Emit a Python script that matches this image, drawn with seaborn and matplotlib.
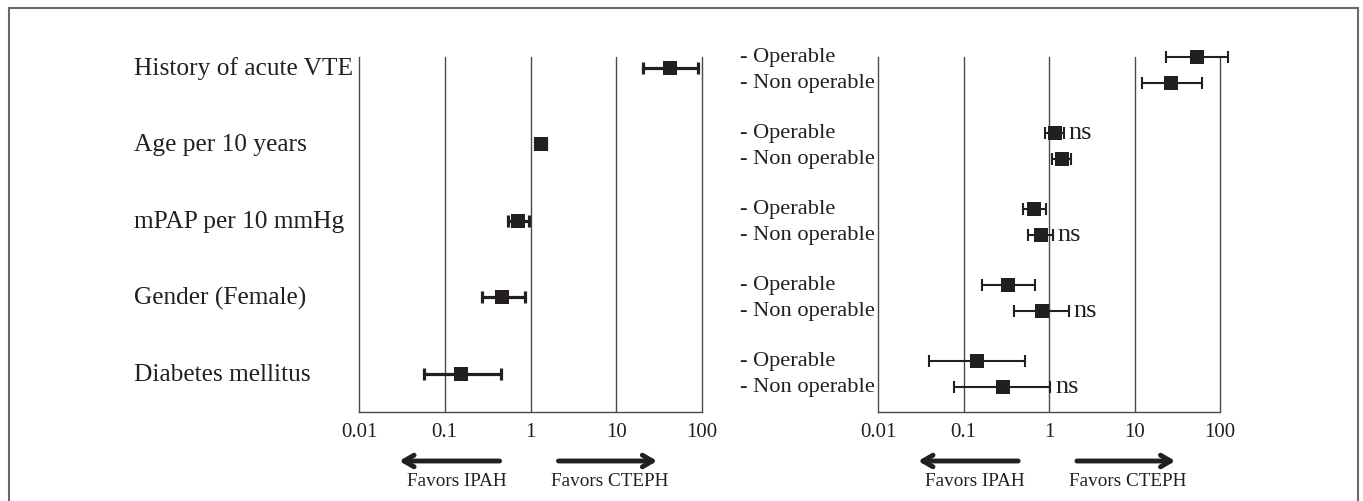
import numpy as np
import pandas as pd
import matplotlib
matplotlib.use("Agg")
import matplotlib.pyplot as plt
import matplotlib.transforms as mtransforms
from matplotlib.patches import Rectangle
import seaborn as sns

# ---------------- data ----------------
left_labels = ["History of acute VTE", "Age per 10 years", "mPAP per 10 mmHg",
               "Gender (Female)", "Diabetes mellitus"]
left_or = [42.0, 1.31, 0.72, 0.47, 0.155]
left_lo = [20.3, 1.12, 0.55, 0.27, 0.058]
left_hi = [91.0, 1.52, 0.95, 0.87, 0.45]

groups = ["VTE", "Age", "mPAP", "Gender", "Diabetes"]
op_or = [53.7, 1.16, 0.67, 0.33, 0.143]
op_lo = [23.6, 0.90, 0.49, 0.163, 0.040]
op_hi = [123.0, 1.48, 0.92, 0.69, 0.52]
nonop_or = [27.0, 1.41, 0.80, 0.82, 0.288]
nonop_lo = [12.1, 1.09, 0.57, 0.39, 0.078]
nonop_hi = [61.0, 1.82, 1.11, 1.70, 1.04]
op_ns = [False, True, False, False, False]
nonop_ns = [False, False, True, True, True]
sub_labels = ["- Operable", "- Non operable"]

ticks = [0.01, 0.1, 1, 10, 100]
tick_labels = ["0.01", "0.1", "1", "10", "100"]
arrow_left_text = "Favors IPAH"
arrow_right_text = "Favors CTEPH"

# ---------------- style ----------------
sns.set_theme(style="white")
plt.rcParams['font.family'] = ['Liberation Serif', 'DejaVu Serif']
INK = '#231f20'
GRID = '#4a4a4a'

W, H = 1363, 502
fig = plt.figure(figsize=(W / 100, H / 100), dpi=100)

def px_x(x):
    return x / W

def px_y(y):
    return 1 - y / H

axL = fig.add_axes([px_x(359), px_y(413), (702 - 359) / W, (413 - 58) / H])
axR = fig.add_axes([px_x(878), px_y(413), (1220 - 878) / W, (413 - 58) / H])

def style_axis(ax, ylim):
    ax.set_xscale('log')
    ax.set_xlim(0.01, 100)
    ax.set_ylim(*ylim)
    ax.set_xticks(ticks)
    ax.set_xticklabels(tick_labels, fontsize=15, color=INK)
    ax.minorticks_off()
    ax.tick_params(axis='x', length=0, pad=7)
    ax.set_yticks([])
    for s in ['top', 'right']:
        ax.spines[s].set_visible(False)
    for s in ['left', 'bottom']:
        ax.spines[s].set_color(GRID)
        ax.spines[s].set_linewidth(1.0)
    for t in ticks[1:]:
        ax.axvline(t, color=GRID, lw=1.0, zorder=1, clip_on=False)
    ax.set_facecolor('none')

    # arrows & captions
    tr = mtransforms.blended_transform_factory(ax.transData, fig.transFigure)
    ya = px_y(462)
    ax.annotate('', xy=(0.0295, ya), xytext=(0.436, ya), xycoords=tr, textcoords=tr,
                arrowprops=dict(arrowstyle='->,head_length=0.6,head_width=0.35',
                                lw=3.5, color=INK, shrinkA=0, shrinkB=0),
                annotation_clip=False)
    ax.annotate('', xy=(30.0, ya), xytext=(2.12, ya), xycoords=tr, textcoords=tr,
                arrowprops=dict(arrowstyle='->,head_length=0.6,head_width=0.35',
                                lw=3.5, color=INK, shrinkA=0, shrinkB=0),
                annotation_clip=False)
    yt = px_y(482)
    ax.text(0.137, yt, arrow_left_text, transform=tr, ha='center', va='center',
            fontsize=13.8, color=INK)
    ax.text(8.3, yt, arrow_right_text, transform=tr, ha='center', va='center',
            fontsize=13.8, color=INK)

# ---------------- left panel ----------------
style_axis(axL, (4.5, -0.144))
ypos_left = np.arange(len(left_labels), dtype=float)
dfL = pd.DataFrame({"or": left_or, "lo": left_lo, "hi": left_hi, "y": ypos_left})
axL.errorbar(dfL["or"], dfL["y"], xerr=[dfL["or"] - dfL["lo"], dfL["hi"] - dfL["or"]],
             fmt='none', ecolor=INK, elinewidth=2.3, capsize=4, capthick=2.3, zorder=3,
             clip_on=False)
sns.scatterplot(data=dfL, x="or", y="y", marker='s', s=95, color=INK,
                edgecolor=INK, linewidth=0, ax=axL, zorder=4, clip_on=False, legend=False)
trL = mtransforms.blended_transform_factory(fig.transFigure, axL.transData)
for yy, lab in zip(ypos_left, left_labels):
    axL.text(px_x(134), yy, lab, transform=trL, ha='left', va='center',
             fontsize=18.3, color=INK)
axL.set_xlabel(''); axL.set_ylabel('')

# ---------------- right panel ----------------
style_axis(axR, (4.5, -0.17))
off = 13 / 76.0
centers = np.arange(len(groups), dtype=float)
dfR = pd.DataFrame({
    "or": op_or + nonop_or,
    "lo": op_lo + nonop_lo,
    "hi": op_hi + nonop_hi,
    "y": list(centers - off) + list(centers + off),
    "ns": op_ns + nonop_ns,
    "lab": [sub_labels[0]] * len(groups) + [sub_labels[1]] * len(groups),
})
axR.errorbar(dfR["or"], dfR["y"], xerr=[dfR["or"] - dfR["lo"], dfR["hi"] - dfR["or"]],
             fmt='none', ecolor=INK, elinewidth=1.5, capsize=4, capthick=1.5, zorder=3,
             clip_on=False)
sns.scatterplot(data=dfR, x="or", y="y", marker='s', s=95, color=INK,
                edgecolor=INK, linewidth=0, ax=axR, zorder=4, clip_on=False, legend=False)
trR = mtransforms.blended_transform_factory(fig.transFigure, axR.transData)
for _, r in dfR.iterrows():
    axR.text(px_x(740), r["y"], r["lab"], transform=trR, ha='left', va='center',
             fontsize=16.1, color=INK)
    if r["ns"]:
        axR.annotate('ns', (r["hi"], r["y"]), xytext=(3.5, 1), textcoords='offset points',
                     ha='left', va='center', fontsize=19, color=INK, annotation_clip=False)
axR.set_xlabel(''); axR.set_ylabel('')

# ---------------- outer frame ----------------
fig.patches.append(Rectangle((px_x(8.5), -0.05), px_x(1358) - px_x(8.5), px_y(8.5) + 0.05,
                             transform=fig.transFigure, fill=False, edgecolor='#6a6a6a',
                             lw=1.5, zorder=0))

fig.savefig("out.png", dpi=100, facecolor='white')
